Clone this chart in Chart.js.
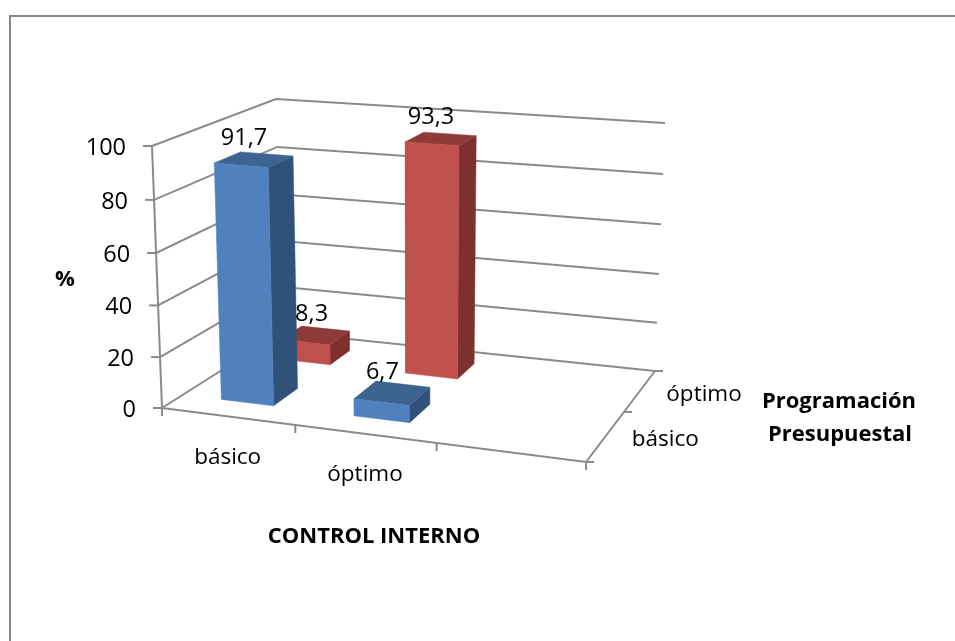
<!DOCTYPE html>
<html lang="es">
<head>
<meta charset="utf-8">
<title>Control interno y programación presupuestal</title>
<script src="https://cdn.jsdelivr.net/npm/chart.js@4/dist/chart.umd.min.js"></script>
<style>
  html, body { margin: 0; background: #fff; }
  #frame {
    position: absolute;
    left: 9px;
    top: 15px;
    width: 946px;
    height: 626px;
    box-sizing: border-box;
    border-left: 2px solid #878787;
    border-top: 2px solid #878787;
  }
  #chart3d { position: absolute; left: 0; top: 0; }
</style>
</head>
<body>
<div id="frame"></div>
<canvas id="chart3d" width="955" height="641"></canvas>
<script>

// ======================
// DATA
// ======================

const controlCategories = ["básico", "óptimo", ""];
const programacionCategories = ["básico", "óptimo"];

const basicoValues = [91.7, 6.7];
const optimoValues = [8.3, 93.3];

const valueTicks = [0, 20, 40, 60, 80, 100];


// ======================
// COLORS
// ======================

const gridColor = "#8a8a8a";

const blueFaces = { front: "#4f81bd", side: "#30527a", top: "#3d6491" };
const redFaces = { front: "#c0504d", side: "#7e302e", top: "#8e3a38" };


// ======================
// 3D BOX PROJECTION
// ======================

// screen corners of the plot box, floor and 100% level
const floorBox = {
  frontLeft: [162, 408], frontRight: [586, 462],
  backRight: [655, 371], backLeft: [282, 332]
};

const topBox = {
  frontLeft: [152, 146], frontRight: [592, 182],
  backRight: [665, 123], backLeft: [276, 99]
};

const barSpan = 0.4;

function lerp(a, b, t) {
  return [a[0] + (b[0] - a[0]) * t, a[1] + (b[1] - a[1]) * t];
}

// u along the control axis, v into the depth, both 0..1
function projectOnLevel(box, u, v) {
  const du = u - 0.085 * u * (1 - u);
  const dv = v + 0.2 * v * (1 - v);

  return lerp(
    lerp(box.frontLeft, box.frontRight, du),
    lerp(box.backLeft, box.backRight, du),
    dv
  );
}

function project(u, v, value) {
  const t = value / 100;
  const level = t - 0.035 * t * (1 - t);

  const p = lerp(
    projectOnLevel(floorBox, u, v),
    projectOnLevel(topBox, u, v),
    level
  );

  return { x: p[0], y: p[1] };
}


// ======================
// DATASET BUILDERS
// ======================

const paintOrder = [];

function addLine(points) {
  paintOrder.push({
    data: points,
    showLine: true,
    fill: false,
    borderColor: gridColor,
    borderWidth: 2,
    pointRadius: 0
  });
}

function addFace(points, color) {
  paintOrder.push({
    data: points.concat([points[0]]),
    showLine: true,
    fill: "shape",
    backgroundColor: color,
    borderColor: color,
    borderWidth: 0.5,
    pointRadius: 0
  });
}

function addBar(slot, row, value, faces) {
  const slotWidth = 1 / controlCategories.length;
  const rowDepth = 1 / programacionCategories.length;

  const u0 = (slot + 0.5 - barSpan / 2) * slotWidth;
  const u1 = (slot + 0.5 + barSpan / 2) * slotWidth;
  const v0 = (row + 0.5 - barSpan / 2) * rowDepth;
  const v1 = (row + 0.5 + barSpan / 2) * rowDepth;

  addFace([
    project(u1, v0, 0), project(u1, v1, 0),
    project(u1, v1, value), project(u1, v0, value)
  ], faces.side);

  addFace([
    project(u0, v0, value), project(u1, v0, value),
    project(u1, v1, value), project(u0, v1, value)
  ], faces.top);

  addFace([
    project(u0, v0, 0), project(u1, v0, 0),
    project(u1, v0, value), project(u0, v0, value)
  ], faces.front);
}

function addWalls() {
  valueTicks.forEach(tick => {
    addLine([project(0, 0, tick), project(0, 1, tick), project(1, 1, tick)]);

    const start = project(0, 0, tick);
    addLine([{ x: start.x - 9, y: start.y }, start]);
  });

  addLine([project(0, 0, 0), project(0, 0, 100)]);
  addLine([project(0, 0, 0), project(1, 0, 0), project(1, 1, 0)]);

  // ticks under the front edge
  controlCategories.forEach((name, i) => {
    const start = project(i / controlCategories.length, 0, 0);
    addLine([start, { x: start.x, y: start.y + 8 }]);
  });

  const corner = project(1, 0, 0);
  addLine([corner, { x: corner.x, y: corner.y + 8 }]);

  // ticks along the depth edge
  [0, 0.5, 1].forEach(v => {
    const start = project(1, v, 0);
    addLine([start, { x: start.x + 8, y: start.y }]);
  });
}

addWalls();

// back row first so the front row paints over it
optimoValues.forEach((value, i) => addBar(i, 1, value, redFaces));
basicoValues.forEach((value, i) => addBar(i, 0, value, blueFaces));


// ======================
// TEXT
// ======================

const numberFont = "23.5px 'Open Sans'";
const axisFont = "22.5px 'Open Sans'";
const titleFont = "bold 22px 'Open Sans'";

function decimal(value) {
  return value.toFixed(1).replace(".", ",");
}

function textItems() {
  const items = [];

  valueTicks.forEach(tick => {
    const p = project(0, 0, tick);
    items.push({ text: String(tick), x: p.x - 26, y: p.y + 2, align: "right", font: numberFont });
  });

  controlCategories.forEach((name, i) => {
    const p = project((i + 0.5) / controlCategories.length, 0, 0);
    items.push({ text: name, x: p.x, y: p.y + 41, align: "center", font: axisFont });
  });

  programacionCategories.forEach((name, i) => {
    const p = project(1, (i + 0.5) / programacionCategories.length, 0);
    items.push({ text: name, x: p.x + 26, y: p.y + 4, align: "left", font: axisFont });
  });

  [basicoValues, optimoValues].forEach((values, row) => {
    values.forEach((value, i) => {
      const p = project(
        (i + 0.5) / controlCategories.length,
        (row + 0.5) / programacionCategories.length,
        value
      );

      // the small back bar keeps its label clear of the blue one
      const nudge = row === 1 && i === 0 ? 6 : 0;

      items.push({ text: decimal(value), x: p.x - 10 + nudge, y: p.y - 21, align: "center", font: numberFont });
    });
  });

  items.push({ text: "%", x: 65, y: 280, align: "center", font: titleFont });
  items.push({ text: "CONTROL INTERNO", x: 374, y: 537, align: "center", font: titleFont });
  items.push({ text: "Programación", x: 839, y: 402, align: "center", font: titleFont });
  items.push({ text: "Presupuestal", x: 840, y: 435, align: "center", font: titleFont });

  return items;
}

const textPlugin = {
  id: "textPlugin",
  afterDatasetsDraw(chart) {
    const { ctx, scales } = chart;

    ctx.save();
    ctx.fillStyle = "#000";
    ctx.textBaseline = "middle";

    textItems().forEach(item => {
      ctx.font = item.font;
      ctx.textAlign = item.align;
      ctx.fillText(
        item.text,
        scales.x.getPixelForValue(item.x),
        scales.y.getPixelForValue(item.y)
      );
    });

    ctx.restore();
  }
};


// ======================
// CHART
// ======================

new Chart(document.getElementById("chart3d"), {

  type: "scatter",

  // Chart.js paints the first dataset last
  data: { datasets: paintOrder.slice().reverse() },

  options: {
    responsive: false,
    animation: false,
    events: [],
    layout: { padding: 0 },
    clip: false,
    plugins: {
      legend: { display: false },
      tooltip: { enabled: false }
    },
    scales: {
      x: { type: "linear", min: 0, max: 955, display: false },
      y: { type: "linear", min: 0, max: 641, reverse: true, display: false }
    }
  },

  plugins: [textPlugin]

});

</script>
</body>
</html>
